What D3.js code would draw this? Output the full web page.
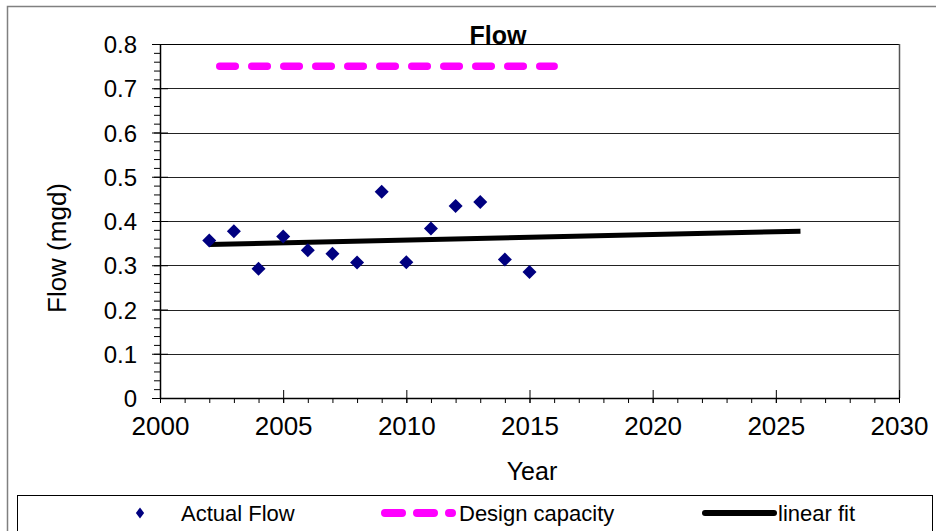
<!DOCTYPE html>
<html>
<head>
<meta charset="utf-8">
<script src="https://cdn.jsdelivr.net/npm/d3@7"></script>
<style>
  html, body { margin: 0; padding: 0; background: #fff; }
  svg { display: block; font-family: "Liberation Sans", Arial, sans-serif; }
</style>
</head>
<body>
<svg id="chart" width="936" height="531"></svg>
<script>
// ---- data ----
const years = [2002, 2003, 2004, 2005, 2006, 2007, 2008, 2009, 2010, 2011, 2012, 2013, 2014, 2015];
const flows = [0.356, 0.377, 0.292, 0.365, 0.334, 0.326, 0.306, 0.466, 0.307, 0.383, 0.434, 0.443, 0.313, 0.285];
const designYears = [2002, 2016];
const designValues = [0.75, 0.75];
const fitYears = [2002, 2026];
const fitValues = [0.347, 0.377];
const xTicks = [2000, 2005, 2010, 2015, 2020, 2025, 2030];
const yTicks = [0, 0.1, 0.2, 0.3, 0.4, 0.5, 0.6, 0.7, 0.8];
const xMinorTicks = d3.range(2000, 2031, 1);
const yMinorTicks = d3.range(0, 41, 1).map(i => i / 50);
const seriesNames = ["Actual Flow", "Design capacity", "linear fit"];

// ---- layout ----
const svg = d3.select("#chart");
const L = 160, R = 899, T = 44, B = 398;
const x = d3.scaleLinear().domain([2000, 2030]).range([L, R]);
const y = d3.scaleLinear().domain([0, 0.8]).range([B, T]);

// outer chart frame
svg.append("path")
  .attr("d", `M7.5,${531} L7.5,6.5 L936,6.5`)
  .attr("fill", "none").attr("stroke", "#808080").attr("stroke-width", 1.5);

// gridlines
svg.append("g").selectAll("line").data(yTicks.filter(d => d > 0)).join("line")
  .attr("x1", L).attr("x2", R)
  .attr("y1", d => Math.round(y(d)) + 0.5).attr("y2", d => Math.round(y(d)) + 0.5)
  .attr("stroke", d => d === 0.8 ? "#000" : "#222").attr("stroke-width", 1);

// right border of plot
svg.append("line").attr("x1", R + 0.5).attr("x2", R + 0.5).attr("y1", T).attr("y2", B)
  .attr("stroke", "#555").attr("stroke-width", 1.5);

// y minor ticks
const yMinor = svg.append("g").attr("transform", `translate(${L},0)`)
  .call(d3.axisLeft(y).tickValues(yMinorTicks).tickSize(6).tickFormat(""));
yMinor.select(".domain").remove();
yMinor.selectAll("line").attr("stroke", "#000");

// y major axis
const yAxis = svg.append("g").attr("transform", `translate(${L},0)`)
  .call(d3.axisLeft(y).tickValues(yTicks).tickSizeInner(8).tickSizeOuter(0).tickPadding(15)
    .tickFormat(d => d === 0 ? "0" : d.toFixed(1)));
yAxis.selectAll(".tick line").attr("x1", 8).attr("stroke", "#000");
yAxis.select(".domain").attr("stroke", "#000").attr("stroke-width", 1.5);
yAxis.selectAll("text").attr("font-size", 24).attr("fill", "#000")
  .attr("font-family", "Liberation Sans, Arial, sans-serif").attr("dy", "0.36em");

// x minor ticks
const xMinor = svg.append("g").attr("transform", `translate(0,${B})`)
  .call(d3.axisBottom(x).tickValues(xMinorTicks).tickSize(5).tickFormat(""));
xMinor.select(".domain").remove();
xMinor.selectAll("line").attr("stroke", "#000");

// x major axis
const xAxis = svg.append("g").attr("transform", `translate(0,${B})`)
  .call(d3.axisBottom(x).tickValues(xTicks).tickSizeInner(5).tickSizeOuter(0).tickPadding(14)
    .tickFormat(d3.format("d")));
xAxis.selectAll(".tick line").attr("y1", -8).attr("stroke", "#000");
xAxis.select(".domain").attr("stroke", "#000").attr("stroke-width", 1.5);
xAxis.selectAll("text").attr("font-size", 26).attr("fill", "#000")
  .attr("font-family", "Liberation Sans, Arial, sans-serif").attr("dy", "0.71em");

// design capacity dashed line
const lineGen = d3.line().x(d => x(d[0])).y(d => y(d[1]));
svg.append("path")
  .datum(designYears.map((yr, i) => [yr, designValues[i]]))
  .attr("d", lineGen)
  .attr("fill", "none").attr("stroke", "#ff00ff").attr("stroke-width", 7.5)
  .attr("stroke-linecap", "round")
  .attr("stroke-dasharray", "15.5,16.5").attr("stroke-dashoffset", 21.5);

// linear fit
svg.append("path")
  .datum(fitYears.map((yr, i) => [yr, fitValues[i]]))
  .attr("d", lineGen)
  .attr("fill", "none").attr("stroke", "#000").attr("stroke-width", 5);

// actual flow points
const diamond = d3.symbol().type(d3.symbolDiamond2).size(125);
svg.append("g").selectAll("path").data(years.map((yr, i) => [yr, flows[i]])).join("path")
  .attr("d", diamond)
  .attr("transform", d => `translate(${x(d[0])},${y(d[1])})`)
  .attr("fill", "#000080");

// title
svg.append("text").attr("x", 498).attr("y", 44).attr("text-anchor", "middle")
  .attr("font-size", 25).attr("font-weight", "bold").attr("fill", "#000").text("Flow");

// axis titles
svg.append("text").attr("x", 532).attr("y", 480).attr("text-anchor", "middle")
  .attr("font-size", 25).attr("fill", "#000").text("Year");
svg.append("text").attr("transform", "translate(66,248) rotate(-90)")
  .attr("text-anchor", "middle").attr("font-size", 26).attr("fill", "#000").text("Flow (mgd)");

// legend
const lg = svg.append("g");
lg.append("rect").attr("x", 17.5).attr("y", 495.5).attr("width", 915).attr("height", 60)
  .attr("fill", "#fff").attr("stroke", "#000").attr("stroke-width", 1);
const ly = 513;
lg.append("path").attr("d", d3.symbol().type(d3.symbolDiamond2).size(60))
  .attr("transform", `translate(140,${ly}) scale(0.85,1.15)`).attr("fill", "#000080");
lg.append("line").attr("x1", 385).attr("x2", 452).attr("y1", ly).attr("y2", ly)
  .attr("stroke", "#ff00ff").attr("stroke-width", 8).attr("stroke-linecap", "round")
  .attr("stroke-dasharray", "17,15");
lg.append("line").attr("x1", 705).attr("x2", 774).attr("y1", ly).attr("y2", ly)
  .attr("stroke", "#000").attr("stroke-width", 6).attr("stroke-linecap", "round");
const legendX = [181, 459, 778];
lg.selectAll("text.leg").data(seriesNames).join("text").attr("class", "leg")
  .attr("x", (d, i) => legendX[i]).attr("y", ly).attr("dy", "0.36em")
  .attr("font-size", 22).attr("fill", "#000").text(d => d);
</script>
</body>
</html>
